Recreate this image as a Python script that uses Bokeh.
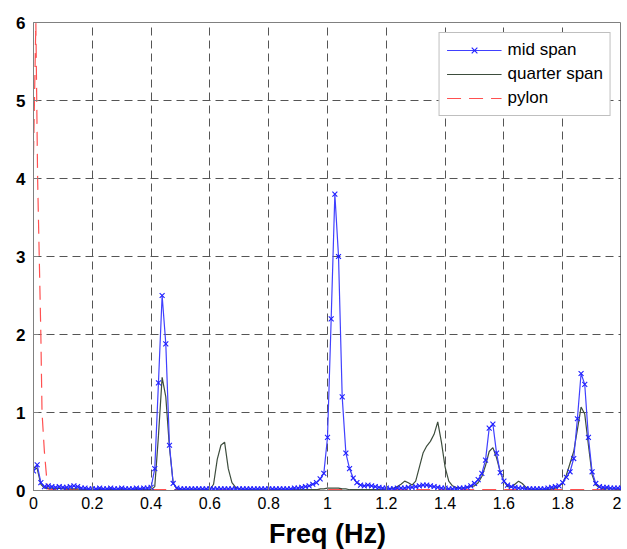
import numpy as np
from bokeh.plotting import figure
from bokeh.models import FixedTicker, Legend, LegendItem
from bokeh.embed import file_html
from bokeh.resources import INLINE

# frequency bins (Hz), 0.0125 Hz resolution
freq = [round(i * 0.0125, 4) for i in range(161)]

mid_span = [
    0.25, 0.33, 0.10, 0.05, 0.06, 0.05, 0.04, 0.05, 0.04, 0.04,   # 0.0 - 0.1125
    0.05, 0.06, 0.05, 0.03, 0.03, 0.02, 0.02, 0.02, 0.03, 0.02,   # 0.125 - 0.2375
    0.02, 0.03, 0.02, 0.02, 0.03, 0.02, 0.02, 0.02, 0.03, 0.02,   # 0.25 - 0.3625
    0.03, 0.03, 0.04, 0.28, 1.38, 2.50, 1.88, 0.58, 0.09, 0.03,   # 0.375 - 0.4875
    0.02, 0.02, 0.02, 0.02, 0.02, 0.02, 0.02, 0.02, 0.02, 0.02,   # 0.5 - 0.6125
    0.02, 0.02, 0.02, 0.02, 0.02, 0.02, 0.02, 0.02, 0.02, 0.02,   # 0.625 - 0.7375
    0.02, 0.02, 0.02, 0.02, 0.02, 0.02, 0.02, 0.02, 0.02, 0.02,   # 0.75 - 0.8625
    0.02, 0.03, 0.03, 0.04, 0.05, 0.06, 0.08, 0.10, 0.15, 0.22,   # 0.875 - 0.9875
    0.68, 2.20, 3.80, 3.00, 1.20, 0.48, 0.28, 0.16, 0.10, 0.07,   # 1.0 - 1.1125
    0.06, 0.07, 0.06, 0.05, 0.04, 0.03, 0.03, 0.02, 0.02, 0.03,   # 1.125 - 1.2375
    0.03, 0.03, 0.04, 0.04, 0.05, 0.06, 0.07, 0.07, 0.06, 0.05,   # 1.25 - 1.3625
    0.04, 0.03, 0.03, 0.02, 0.02, 0.02, 0.03, 0.03, 0.04, 0.06,   # 1.375 - 1.4875
    0.09, 0.14, 0.22, 0.39, 0.80, 0.85, 0.48, 0.23, 0.12, 0.07,   # 1.5 - 1.6125
    0.05, 0.04, 0.03, 0.03, 0.02, 0.02, 0.02, 0.02, 0.02, 0.02,   # 1.625 - 1.7375
    0.03, 0.04, 0.05, 0.06, 0.10, 0.17, 0.24, 0.41, 0.92, 1.50,   # 1.75 - 1.8625
    1.36, 0.68, 0.24, 0.09, 0.05, 0.04, 0.04, 0.03, 0.03, 0.03,   # 1.875 - 1.9875
    0.03,                                                          # 2.0
]

quarter_span = [
    0.30, 0.28, 0.08, 0.03, 0.03, 0.03, 0.02, 0.03, 0.02, 0.02,   # 0.0 - 0.1125
    0.02, 0.02, 0.02, 0.01, 0.01, 0.01, 0.01, 0.01, 0.01, 0.01,   # 0.125 - 0.2375
    0.01, 0.01, 0.01, 0.01, 0.01, 0.01, 0.01, 0.01, 0.01, 0.01,   # 0.25 - 0.3625
    0.01, 0.01, 0.01, 0.05, 0.70, 1.45, 1.20, 0.55, 0.10, 0.02,   # 0.375 - 0.4875
    0.01, 0.01, 0.01, 0.01, 0.01, 0.01, 0.01, 0.01, 0.01, 0.08,   # 0.5 - 0.6125
    0.40, 0.58, 0.62, 0.28, 0.10, 0.04, 0.02, 0.01, 0.01, 0.01,   # 0.625 - 0.7375
    0.01, 0.01, 0.01, 0.01, 0.01, 0.01, 0.01, 0.01, 0.01, 0.01,   # 0.75 - 0.8625
    0.01, 0.01, 0.01, 0.01, 0.01, 0.01, 0.01, 0.01, 0.02, 0.02,   # 0.875 - 0.9875
    0.03, 0.03, 0.03, 0.03, 0.02, 0.02, 0.01, 0.01, 0.01, 0.01,   # 1.0 - 1.1125
    0.01, 0.01, 0.01, 0.01, 0.01, 0.01, 0.02, 0.02, 0.03, 0.05,   # 1.125 - 1.2375
    0.08, 0.12, 0.10, 0.07, 0.12, 0.30, 0.48, 0.57, 0.63, 0.72,   # 1.25 - 1.3625
    0.88, 0.62, 0.30, 0.12, 0.06, 0.04, 0.03, 0.03, 0.04, 0.05,   # 1.375 - 1.4875
    0.06, 0.10, 0.18, 0.32, 0.50, 0.55, 0.42, 0.24, 0.12, 0.05,   # 1.5 - 1.6125
    0.04, 0.08, 0.12, 0.09, 0.04, 0.02, 0.01, 0.01, 0.01, 0.01,   # 1.625 - 1.7375
    0.01, 0.02, 0.03, 0.05, 0.10, 0.20, 0.35, 0.50, 0.78, 1.07,   # 1.75 - 1.8625
    0.98, 0.58, 0.20, 0.07, 0.04, 0.02, 0.02, 0.02, 0.02, 0.02,   # 1.875 - 1.9875
    0.02,                                                          # 2.0
]

pylon_freq = [0.0, 0.008, 0.014, 0.0195, 0.025, 0.029, 0.037, 0.048, 0.06, 2.0]
pylon = [4.3, 6.0, 4.0, 3.0, 2.0, 1.0, 0.5, 0.02, 0.01, 0.01]

x_ticks = [0, 0.2, 0.4, 0.6, 0.8, 1.0, 1.2, 1.4, 1.6, 1.8, 2.0]
x_tick_labels = ["0", "0.2", "0.4", "0.6", "0.8", "1", "1.2", "1.4", "1.6", "1.8", "2"]
y_ticks = [0, 1, 2, 3, 4, 5, 6]
y_tick_labels = ["0", "1", "2", "3", "4", "5", "6"]

FONT = "Liberation Sans"

p = figure(
    frame_width=588, frame_height=468,
    x_range=(0, 2), y_range=(0, 6),
    output_backend="svg", toolbar_location=None,
    min_border_left=33, min_border_top=22, min_border_right=0, min_border_bottom=0,
    background_fill_color="white", border_fill_color="white",
)
p.outline_line_color = "#808080"

# grid
for g in (p.xgrid, p.ygrid):
    g.grid_line_color = "#555555"
    g.grid_line_dash = "8 5"
    g.grid_line_width = 1
p.xgrid.ticker = FixedTicker(ticks=x_ticks)
p.ygrid.ticker = FixedTicker(ticks=y_ticks)

# axes
p.xaxis.ticker = FixedTicker(ticks=x_ticks)
p.xaxis.major_label_overrides = {t: l for t, l in zip(x_ticks, x_tick_labels)}
p.yaxis.ticker = FixedTicker(ticks=y_ticks)
p.yaxis.major_label_overrides = {t: l for t, l in zip(y_ticks, y_tick_labels)}
for ax in (p.xaxis[0], p.yaxis[0]):
    ax.axis_line_color = "#808080"
    ax.major_tick_line_color = "#808080"
    ax.major_tick_in = 5
    ax.major_tick_out = 0
    ax.minor_tick_line_color = None
    ax.major_label_text_font = FONT
    ax.major_label_text_font_size = "16px"
    ax.major_label_text_color = "black"
p.yaxis.major_label_text_font_style = "bold"
p.yaxis.major_label_text_font_size = "17px"
p.yaxis.major_label_standoff = 8
p.xaxis.major_label_standoff = 6
p.xaxis.axis_label = "Freq (Hz)"
p.xaxis.axis_label_text_font = FONT
p.xaxis.axis_label_text_font_size = "27px"
p.xaxis.axis_label_text_font_style = "bold"
p.xaxis.axis_label_text_color = "black"
p.xaxis.axis_label_standoff = 7

# series
r_pylon = p.line(pylon_freq, pylon, line_color="#ff5050", line_width=1.2, line_dash="14 8")
r_q = p.line(freq, quarter_span, line_color="#3d4d3d", line_width=1.2)
r_m = p.line(freq, mid_span, line_color="#4040ff", line_width=1.2)
r_mx = p.scatter(freq, mid_span, marker="x", size=7, line_color="#2020ff", line_width=1.1)

legend = Legend(items=[
    LegendItem(label="mid span", renderers=[r_m, r_mx]),
    LegendItem(label="quarter span", renderers=[r_q]),
    LegendItem(label="pylon", renderers=[r_pylon]),
], location="top_right")
legend.label_text_font = FONT
legend.label_text_font_size = "17px"
legend.label_text_color = "black"
legend.glyph_width = 55
legend.glyph_height = 20
legend.label_standoff = 6
legend.spacing = 4
legend.padding = 7
legend.margin = 10
legend.border_line_color = "#808080"
legend.border_line_width = 1
legend.background_fill_color = "white"
legend.background_fill_alpha = 1.0
p.add_layout(legend)

open("out.html", "w").write(file_html(p, INLINE))
